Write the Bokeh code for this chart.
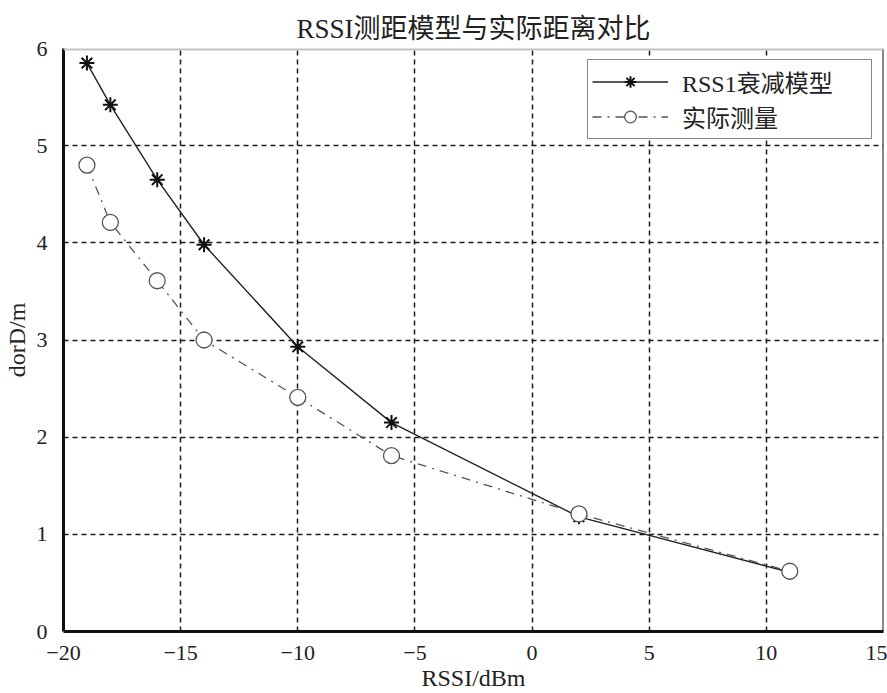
from bokeh.plotting import figure
from bokeh.models import Range1d, FixedTicker, Span, Legend, LegendItem
from bokeh.embed import file_html
from bokeh.resources import INLINE

# data
rssi = [-19, -18, -16, -14, -10, -6, 2, 11]
model_dist = [5.85, 5.42, 4.65, 3.98, 2.93, 2.15, 1.18, 0.61]
measured_dist = [4.80, 4.21, 3.61, 3.00, 2.41, 1.81, 1.21, 0.62]

x_ticks = [-20, -15, -10, -5, 0, 5, 10, 15]
y_ticks = [0, 1, 2, 3, 4, 5, 6]

title_text = "RSSI测距模型与实际距离对比"
x_label = "RSSI/dBm"
y_label = "dorD/m"
series_names = ["RSS1衰减模型", "实际测量"]

FONT = "Liberation Serif, Noto Sans CJK SC"

p = figure(width=887, height=693,
           x_range=Range1d(-20, 15), y_range=Range1d(0, 6),
           output_backend="svg", toolbar_location=None,
           min_border_left=62, min_border_right=4,
           min_border_top=48, min_border_bottom=61)

p.background_fill_color = "white"
p.border_fill_color = "white"
p.outline_line_color = None

p.title.text = title_text
p.title.align = "center"
p.title.text_font = FONT
p.title.text_font_size = "27px"
p.title.text_font_style = "normal"
p.title.text_color = "#222222"

for ax in (p.xaxis[0], p.yaxis[0]):
    ax.major_label_text_font = FONT
    ax.major_label_text_font_size = "22px"
    ax.major_label_text_color = "#222222"
    ax.axis_label_text_font = FONT
    ax.axis_label_text_font_size = "24px"
    ax.axis_label_text_font_style = "normal"
    ax.axis_label_text_color = "#222222"
    ax.axis_line_color = "#111111"
    ax.axis_line_width = 3
    ax.major_tick_line_color = None
    ax.minor_tick_line_color = None

p.xaxis[0].ticker = FixedTicker(ticks=x_ticks)
p.yaxis[0].ticker = FixedTicker(ticks=y_ticks)
p.xaxis[0].axis_label = x_label
p.yaxis[0].axis_label = y_label
p.xaxis[0].major_label_standoff = 8
p.yaxis[0].major_label_standoff = 10
p.xaxis[0].axis_label_standoff = 2
p.yaxis[0].axis_label_standoff = 4

for g in (p.xgrid[0], p.ygrid[0]):
    g.grid_line_color = "#1a1a1a"
    g.grid_line_width = 1.5
    g.grid_line_dash = "5 4"
p.xgrid[0].ticker = FixedTicker(ticks=x_ticks)
p.ygrid[0].ticker = FixedTicker(ticks=y_ticks)

# frame edges: right thin black, top gray band
p.add_layout(Span(location=15, dimension="height", line_color="#111111", line_width=2))
p.add_layout(Span(location=6, dimension="width", line_color="#c4c4c4", line_width=4))

# series
l1 = p.line(rssi, model_dist, line_color="#222222", line_width=1.4)
m1 = p.scatter(rssi, model_dist, marker="asterisk", size=15, line_color="#111111", line_width=2)
l2 = p.line(rssi, measured_dist, line_color="#555555", line_width=1.3, line_dash="9 6 2 6")
m2 = p.scatter(rssi, measured_dist, marker="circle", size=16, fill_color="white",
               line_color="#555555", line_width=1.3)

legend = Legend(items=[LegendItem(label=series_names[0], renderers=[l1, m1]),
                       LegendItem(label=series_names[1], renderers=[l2, m2])],
                location="top_right")
legend.label_text_font = FONT
legend.label_text_font_size = "24px"
legend.label_text_color = "#222222"
legend.glyph_width = 76
legend.glyph_height = 29
legend.label_height = 29
legend.label_width = 185
legend.label_standoff = 14
legend.padding = 4
legend.spacing = 0
legend.border_line_color = "#111111"
legend.border_line_width = 1.5
legend.background_fill_alpha = 1
legend.margin = 11
p.add_layout(legend, "center")

open("out.html", "w").write(file_html(p, INLINE))
